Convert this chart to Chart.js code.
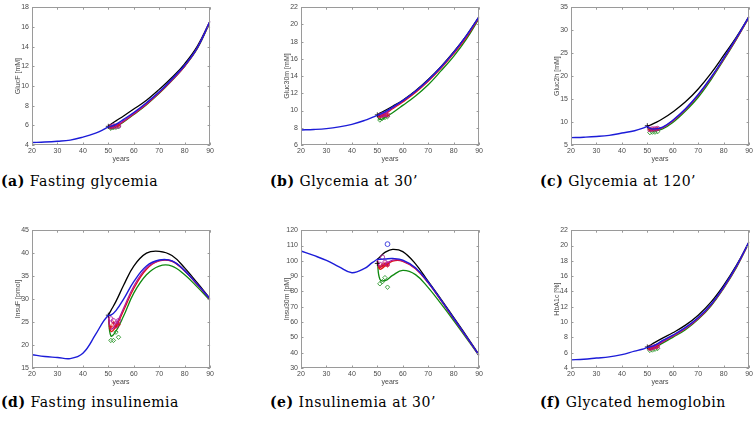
<!DOCTYPE html>
<html>
<head>
<meta charset="utf-8">
<script src="https://cdn.jsdelivr.net/npm/chart.js@4.4.1/dist/chart.umd.min.js"></script>
<style>
  html, body { margin: 0; padding: 0; background: #ffffff; }
  body { width: 755px; height: 421px; position: relative; overflow: hidden; }
  canvas { position: absolute; }
  .cap { position: absolute; font-family: "DejaVu Serif", "Liberation Serif", serif; font-size: 14px; line-height: 14px; letter-spacing: 0.5px; color: #000; white-space: nowrap; }
  .cap b { font-weight: bold; }
</style>
</head>
<body>
<script>
// ---------- data ----------
const yearsPre  = [20, 25, 30, 35, 40, 45, 48, 50];
const yearsPost = [50, 51, 53, 56, 60, 65, 70, 75, 80, 85, 90];
const markYears = [51, 52, 53, 54];
const xTicks = [20, 30, 40, 50, 60, 70, 80, 90];

// (a) fasting glycemia
const glucF_base    = [4.25, 4.3, 4.38, 4.5, 4.8, 5.2, 5.55, 5.85];
const glucF_black   = [5.9, 6.1, 6.45, 6.95, 7.65, 8.55, 9.65, 10.85, 12.25, 14.05, 16.6];
const glucF_blue    = [5.85, 5.9, 6.1, 6.6, 7.3, 8.3, 9.4, 10.7, 12.1, 13.9, 16.6];
const glucF_magenta = [5.9, 5.8, 5.95, 6.45, 7.2, 8.2, 9.35, 10.6, 12.05, 13.9, 16.6];
const glucF_red     = [5.9, 5.75, 5.9, 6.4, 7.15, 8.15, 9.3, 10.6, 12.0, 13.85, 16.55];
const glucF_green   = [5.8, 5.65, 5.85, 6.35, 7.1, 8.1, 9.25, 10.55, 12.0, 13.8, 16.5];
const glucF_mMag    = [5.85, 5.95, 5.9, 5.95];
const glucF_mGreen  = [5.7, 5.75, 5.8, 5.85];
const glucF_mRed    = [5.85, 5.9, 5.95, 6.0];
const glucF_start   = 5.9;

// (b) glycemia at 30'
const gluc30_base    = [7.75, 7.8, 7.9, 8.1, 8.4, 8.85, 9.2, 9.45];
const gluc30_black   = [9.5, 9.7, 10.0, 10.5, 11.2, 12.3, 13.6, 15.1, 16.8, 18.7, 20.9];
const gluc30_blue    = [9.45, 9.55, 9.85, 10.4, 11.15, 12.25, 13.55, 15.05, 16.75, 18.7, 20.9];
const gluc30_magenta = [9.5, 9.4, 9.7, 10.3, 11.1, 12.2, 13.5, 15.0, 16.7, 18.6, 20.85];
const gluc30_red     = [9.5, 9.3, 9.6, 10.2, 11.0, 12.1, 13.4, 14.9, 16.6, 18.5, 20.8];
const gluc30_green   = [9.4, 8.95, 9.2, 9.75, 10.6, 11.7, 13.0, 14.6, 16.3, 18.3, 20.7];
const gluc30_mMag    = [9.4, 9.5, 9.55, 9.5];
const gluc30_mGreen  = [8.9, 9.1, 9.2, 9.3];
const gluc30_mRed    = [9.3, 9.4, 9.45, 9.5];
const gluc30_start   = 9.5;

// (c) glycemia at 120'
const gluc2h_base    = [6.6, 6.7, 6.85, 7.1, 7.6, 8.1, 8.6, 9.1];
const gluc2h_black   = [9.1, 9.3, 9.8, 10.7, 12.2, 14.4, 17.2, 20.6, 24.5, 28.5, 33.0];
const gluc2h_blue    = [9.1, 8.6, 8.5, 8.9, 10.4, 12.9, 16.0, 19.7, 23.9, 28.3, 33.0];
const gluc2h_magenta = [9.2, 8.5, 8.4, 8.8, 10.3, 12.8, 15.9, 19.6, 23.8, 28.2, 32.9];
const gluc2h_red     = [9.2, 8.45, 8.35, 8.75, 10.2, 12.7, 15.8, 19.5, 23.7, 28.1, 32.9];
const gluc2h_green   = [9.0, 8.2, 8.1, 8.5, 9.9, 12.4, 15.4, 19.2, 23.5, 28.0, 32.8];
const gluc2h_mMag    = [8.4, 8.5, 8.5, 8.6];
const gluc2h_mGreen  = [7.7, 7.8, 7.8, 7.9];
const gluc2h_mRed    = [8.3, 8.35, 8.45, 8.5];
const gluc2h_start   = 9.2;

// (d) fasting insulinemia
const insuF_base    = [17.9, 17.5, 17.3, 17.05, 18.2, 22.3, 25.1, 26.5];
const insuF_black   = [26.5, 27.5, 29.5, 33.0, 37.2, 40.0, 40.4, 39.5, 36.8, 33.5, 30.1];
const insuF_blue    = [26.5, 26.5, 27.5, 30.0, 33.8, 37.2, 38.5, 38.3, 36.2, 33.2, 30.0];
const insuF_magenta = [26.5, 23.5, 24.5, 28.0, 32.8, 36.8, 38.4, 38.3, 36.2, 33.2, 30.0];
const insuF_red     = [26.5, 23.0, 24.0, 27.5, 32.3, 36.5, 38.3, 38.2, 36.1, 33.1, 29.9];
const insuF_green   = [26.5, 22.0, 23.0, 26.3, 31.3, 35.3, 37.2, 37.2, 35.3, 32.6, 29.7];
const insuF_mMag    = [25.7, 25.3, 24.3, 25.3];
const insuF_mGreen  = [21.0, 21.0, 22.8, 21.7];
const insuF_mRed    = [24.0, 24.8, 24.0, 24.5];
const insuF_start   = 26.5;

// (e) insulinemia at 30'
const insu30_base    = [106.4, 103.5, 100.3, 96.0, 92.2, 95.0, 98.8, 101.0];
const insu30_black   = [101, 102.5, 105.5, 107.5, 106, 98, 86.5, 75, 63, 51, 38.5];
const insu30_blue    = [101, 101, 101.2, 101.5, 100.5, 95.5, 86, 74.5, 62.5, 50.5, 38.3];
const insu30_magenta = [101, 96, 97.5, 100.5, 100, 95, 85.8, 74.3, 62.3, 50.4, 38.3];
const insu30_red     = [100, 94.5, 96.5, 99.8, 99.7, 94.8, 85.6, 74.2, 62.2, 50.3, 38.2];
const insu30_green   = [100, 88, 87, 90.5, 93.8, 91, 82.5, 72, 61, 49.5, 38];
const insu30_mMag    = [97.7, 102.4, 99, 98];
const insu30_mGreen  = [85, 86.4, 89, 82.8];
const insu30_mRed    = [96, 97, 98, 97];
const insu30_start   = 98.3;

// (f) glycated hemoglobin
const hba1c_base    = [5.06, 5.15, 5.3, 5.45, 5.75, 6.2, 6.45, 6.7];
const hba1c_black   = [6.75, 6.95, 7.35, 7.9, 8.6, 9.6, 10.9, 12.6, 14.8, 17.4, 20.5];
const hba1c_blue    = [6.7, 6.75, 7.0, 7.6, 8.3, 9.3, 10.6, 12.3, 14.6, 17.3, 20.5];
const hba1c_magenta = [6.7, 6.6, 6.85, 7.45, 8.2, 9.2, 10.5, 12.25, 14.5, 17.25, 20.45];
const hba1c_red     = [6.65, 6.55, 6.8, 7.4, 8.15, 9.15, 10.45, 12.2, 14.5, 17.2, 20.45];
const hba1c_green   = [6.6, 6.4, 6.65, 7.25, 8.0, 9.0, 10.35, 12.1, 14.4, 17.1, 20.4];
const hba1c_mMag    = [6.6, 6.7, 6.8, 6.9];
const hba1c_mGreen  = [6.3, 6.35, 6.45, 6.55];
const hba1c_mRed    = [6.5, 6.6, 6.7, 6.75];
const hba1c_start   = 6.75;

const yTitles = ['GlucF [mM]', 'Gluc30m [mM]', 'Gluc2h [mM]', 'InsuF [pmol]', 'Insu30m [pM]', 'HbA1c [%]'];
const yMins   = [4, 6, 5, 15, 30, 4];
const yMaxs   = [18, 22, 35, 45, 120, 22];
const ySteps  = [2, 2, 5, 5, 10, 2];
const capLetters = ['(a)', '(b)', '(c)', '(d)', '(e)', '(f)'];
const capTexts = ['Fasting glycemia', 'Glycemia at 30\u2019', 'Glycemia at 120\u2019',
                  'Fasting insulinemia', 'Insulinemia at 30\u2019', 'Glycated hemoglobin'];

const panels = [
  [glucF_base, glucF_black, glucF_blue, glucF_magenta, glucF_red, glucF_green, glucF_mMag, glucF_mGreen, glucF_mRed, glucF_start],
  [gluc30_base, gluc30_black, gluc30_blue, gluc30_magenta, gluc30_red, gluc30_green, gluc30_mMag, gluc30_mGreen, gluc30_mRed, gluc30_start],
  [gluc2h_base, gluc2h_black, gluc2h_blue, gluc2h_magenta, gluc2h_red, gluc2h_green, gluc2h_mMag, gluc2h_mGreen, gluc2h_mRed, gluc2h_start],
  [insuF_base, insuF_black, insuF_blue, insuF_magenta, insuF_red, insuF_green, insuF_mMag, insuF_mGreen, insuF_mRed, insuF_start],
  [insu30_base, insu30_black, insu30_blue, insu30_magenta, insu30_red, insu30_green, insu30_mMag, insu30_mGreen, insu30_mRed, insu30_start],
  [hba1c_base, hba1c_black, hba1c_blue, hba1c_magenta, hba1c_red, hba1c_green, hba1c_mMag, hba1c_mGreen, hba1c_mRed, hba1c_start]
];
const extraBlueYear = 54, extraBlueVal = 110.9; // lone blue circle in (e)

// ---------- layout ----------
const colLeft = [0, 269, 539];
const rowTop = [0, 223];
const capLeft = [1, 270, 540];
const capTop = [174, 395];
const CW = 216, CH = 165;

const BLUE = '#1c1cd8', BLACK = '#000000', MAG = '#b0189c', RED = '#e01010', GREEN = '#108a10';

const toPts = (xs, ys) => xs.map((x, i) => ({x: x, y: ys[i]}));

const boxPlugin = {
  id: 'box',
  afterDatasetsDraw(chart) {
    const {ctx, chartArea: a, scales} = chart;
    ctx.save();
    ctx.strokeStyle = '#9a9a9a';
    ctx.lineWidth = 1;
    ctx.strokeRect(Math.round(a.left) + 0.5, Math.round(a.top) + 0.5,
                   Math.round(a.right - a.left) - 1, Math.round(a.bottom - a.top) - 1);
    ctx.beginPath();
    const xs = scales.x, ys = scales.y;
    xs.ticks.forEach(t => {
      const px = Math.round(xs.getPixelForValue(t.value)) + 0.5;
      ctx.moveTo(px, a.bottom); ctx.lineTo(px, a.bottom - 2.5);
      ctx.moveTo(px, a.top); ctx.lineTo(px, a.top + 2.5);
    });
    ys.ticks.forEach(t => {
      const py = Math.round(ys.getPixelForValue(t.value)) + 0.5;
      ctx.moveTo(a.left, py); ctx.lineTo(a.left + 2.5, py);
      ctx.moveTo(a.right, py); ctx.lineTo(a.right - 2.5, py);
    });
    ctx.stroke();
    ctx.restore();
  }
};

panels.forEach((p, i) => {
  const col = i % 3, row = Math.floor(i / 3);
  const cv = document.createElement('canvas');
  cv.width = CW; cv.height = CH;
  cv.style.left = colLeft[col] + 'px';
  cv.style.top = rowTop[row] + 'px';
  cv.style.width = CW + 'px'; cv.style.height = CH + 'px';
  document.body.appendChild(cv);

  const cap = document.createElement('div');
  cap.className = 'cap';
  cap.style.left = capLeft[col] + 'px';
  cap.style.top = capTop[row] + 'px';
  cap.innerHTML = '<b>' + capLetters[i] + '</b> ' + capTexts[i];
  document.body.appendChild(cap);

  const [base, black, blue, mag, red, green, mMag, mGreen, mRed, start] = p;
  const line = (data, color, w) => ({
    type: 'line', data: data, borderColor: color, borderWidth: w || 1.3,
    pointRadius: 0, fill: false, tension: 0.4
  });
  const marks = (data, color, style, r) => ({
    type: 'line', data: data, showLine: false, borderColor: color, backgroundColor: 'rgba(0,0,0,0)',
    pointStyle: style, pointRadius: r || 2.2, pointBorderWidth: 0.8
  });
  const datasets = [
    line(toPts(yearsPre, base), BLUE, 1.4),
    line(toPts(yearsPost, blue), BLUE, 1.4),
    marks(toPts([50], [start]), BLACK, 'cross', 2.5),
    marks(toPts(markYears, mMag), MAG, 'circle'),
    marks(toPts(markYears, mRed), RED, 'star', 2.2),
    marks(toPts(markYears, mGreen), GREEN, 'rectRot'),
    line(toPts(yearsPost, mag), MAG),
    line(toPts(yearsPost, red), RED),
    line(toPts(yearsPost, green), GREEN),
    line(toPts(yearsPost, black), BLACK)
  ];
  if (i === 4) datasets.push(marks(toPts([extraBlueYear], [extraBlueVal]), BLUE, 'circle', 2.4));

  new Chart(cv, {
    type: 'line',
    data: { datasets: datasets },
    options: {
      responsive: false, animation: false, devicePixelRatio: 1,
      layout: { padding: { top: 4, right: 4, left: 0, bottom: 0 } },
      plugins: { legend: { display: false }, tooltip: { enabled: false } },
      scales: {
        x: {
          type: 'linear', min: 20, max: 90,
          afterFit: s => { s.height = 20; },
          afterBuildTicks: s => { s.ticks = xTicks.map(v => ({value: v})); },
          grid: { display: false, drawTicks: false },
          border: { display: false },
          ticks: { font: { family: 'Liberation Sans', size: 7 }, color: '#4a4a4a', padding: 2, maxRotation: 0 },
          title: { display: true, text: 'years', font: { family: 'Liberation Sans', size: 7 }, color: '#4a4a4a', padding: { top: 0, bottom: 2 } }
        },
        y: {
          type: 'linear', min: yMins[i], max: yMaxs[i],
          afterFit: s => { s.width = 32; },
          grid: { display: false, drawTicks: false },
          border: { display: false },
          ticks: { stepSize: ySteps[i], font: { family: 'Liberation Sans', size: 7 }, color: '#4a4a4a', padding: 3 },
          title: { display: true, text: yTitles[i], font: { family: 'Liberation Sans', size: 7 }, color: '#4a4a4a', padding: { top: 14, bottom: 0 } }
        }
      }
    },
    plugins: [boxPlugin]
  });
});
</script>
</body>
</html>
